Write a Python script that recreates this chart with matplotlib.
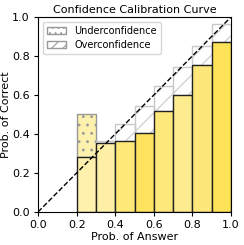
import matplotlib
matplotlib.use("Agg")
import matplotlib.pyplot as plt
from matplotlib.patches import Patch

bin_lefts = [0.2, 0.3, 0.4, 0.5, 0.6, 0.7, 0.8, 0.9]
accuracy = [0.28, 0.355, 0.365, 0.405, 0.515, 0.60, 0.752, 0.872]
confidence = [0.50, 0.365, 0.45, 0.545, 0.645, 0.745, 0.85, 0.963]
bar_colors = ['#fdf1ad', '#fdf0a6', '#fde878', '#fde35e', '#fde87c',
              '#fdec8f', '#fde67a', '#fee358']
xticks = [0.0, 0.2, 0.4, 0.6, 0.8, 1.0]
yticks = [0.0, 0.2, 0.4, 0.6, 0.8, 1.0]

plt.rcParams['hatch.linewidth'] = 0.8

fig = plt.figure(figsize=(2.44, 2.45), dpi=100)
ax = fig.add_axes([0.156, 0.135, 0.791, 0.796])
width = 0.1

for x, acc, conf, c in zip(bin_lefts, accuracy, confidence, bar_colors):
    ax.bar(x, acc, width=width, align='edge', color=c, edgecolor='#222222',
           linewidth=1.0, zorder=2)
    lo, hi = min(acc, conf), max(acc, conf)
    under = x < 0.3
    ax.bar(x, hi - lo, bottom=lo, width=width, align='edge',
           color=(c if under else 'none'),
           edgecolor=('#999999' if under else '#c8c8c8'),
           hatch=('..' if under else '//'), linewidth=1.0, zorder=1)

ax.plot([0, 1], [0, 1], 'k--', linewidth=1.0, zorder=3)

handles = [Patch(facecolor='none', edgecolor='#999999', hatch='...', label='Underconfidence'),
           Patch(facecolor='none', edgecolor='#999999', hatch='///', label='Overconfidence')]
ax.legend(handles=handles, loc='upper left', fontsize=7, handlelength=2.0,
          borderpad=0.4, labelspacing=0.45)

ax.set_xlim(0, 1)
ax.set_ylim(0, 1)
ax.set_xticks(xticks)
ax.set_yticks(yticks)
ax.tick_params(labelsize=8, length=3, pad=3)
ax.set_xlabel('Prob. of Answer', fontsize=8, labelpad=1)
ax.set_ylabel('Prob. of Correct', fontsize=8, labelpad=1)
ax.set_title('Confidence Calibration Curve', fontsize=8, pad=3)

fig.savefig('out.png', dpi=100)
